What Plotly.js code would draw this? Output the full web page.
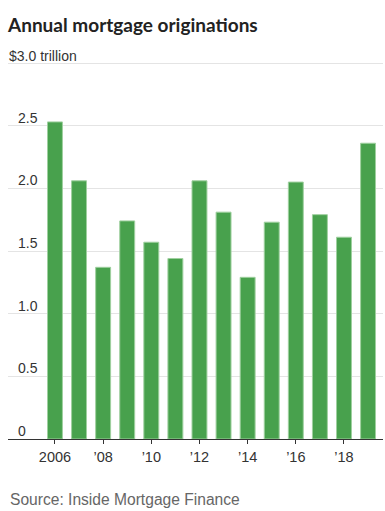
<!DOCTYPE html>
<html><head><meta charset="utf-8">
<script src="https://cdn.plot.ly/plotly-3.0.1.min.js"></script>
<style>html,body{margin:0;padding:0;background:#fff}#chart{width:385px;height:511px}</style>
</head><body><div id="chart"></div>
<script>
const years = [2006,2007,2008,2009,2010,2011,2012,2013,2014,2015,2016,2017,2018,2019];
const originations = [2.53,2.06,1.37,1.74,1.57,1.44,2.06,1.81,1.29,1.73,2.05,1.79,1.61,2.36];
const xTickVals = [2006,2008,2010,2012,2014,2016,2018];
const xTickText = ['2006',"\u201908","\u201910","\u201912","\u201914","\u201916","\u201918"];
const yTickVals = [0,0.5,1,1.5,2,2.5,3];
const yTickText = ['0','0.5','1.0','1.5','2.0','2.5','$3.0 trillion'];
const FONT = '"Liberation Sans", Arial, sans-serif';

const yLabelAnns = yTickVals.map((v,i)=>{
  const top = i===yTickVals.length-1;
  return {
    text: yTickText[i], xref:'paper', yref:'y', x:0, y:v, xanchor:'left', yanchor:'bottom',
    xshift: top ? -1 : 8, yshift: top ? -3 : -2, showarrow:false,
    font:{size:14, color:'#333'}
  };
});

Plotly.newPlot('chart', [{
  type:'bar', x:years, y:originations,
  marker:{color:'#48a14d', line:{color:'#9fd09f', width:1}},
  width:0.62, hoverinfo:'none'
}], {
  width:385, height:511,
  margin:{l:8, r:2, t:60, b:72},
  paper_bgcolor:'#fff', plot_bgcolor:'#fff',
  showlegend:false,
  font:{family:FONT, color:'#333', size:14},
  title:{text:'<b>Annual mortgage originations</b>', x:0, xref:'paper', xanchor:'left', y:1-25/511, yref:'container', yanchor:'middle',
    font:{family:'Lato, "Open Sans", sans-serif', size:19, color:'#222'}},
  xaxis:{range:[2004.05,2019.62], tickvals:xTickVals, ticktext:xTickText, ticks:'outside', ticklen:4, tickcolor:'#333',
    showline:true, linecolor:'#333', linewidth:1.3, showgrid:false, zeroline:false, fixedrange:true,
    tickfont:{size:14.5, color:'#333'}},
  yaxis:{range:[0,3.024], tickvals:yTickVals, ticks:'', showgrid:true, gridcolor:'#e4e4e4', gridwidth:1,
    zeroline:false, showline:false, showticklabels:false, fixedrange:true},
  annotations: yLabelAnns.concat([
    {text:'Source: Inside Mortgage Finance', xref:'paper', yref:'paper', x:0, y:0, xanchor:'left', yanchor:'middle', yshift:-60, showarrow:false,
     font:{size:15.6, color:'#666'}}
  ])
}, {staticPlot:true});
</script></body></html>
